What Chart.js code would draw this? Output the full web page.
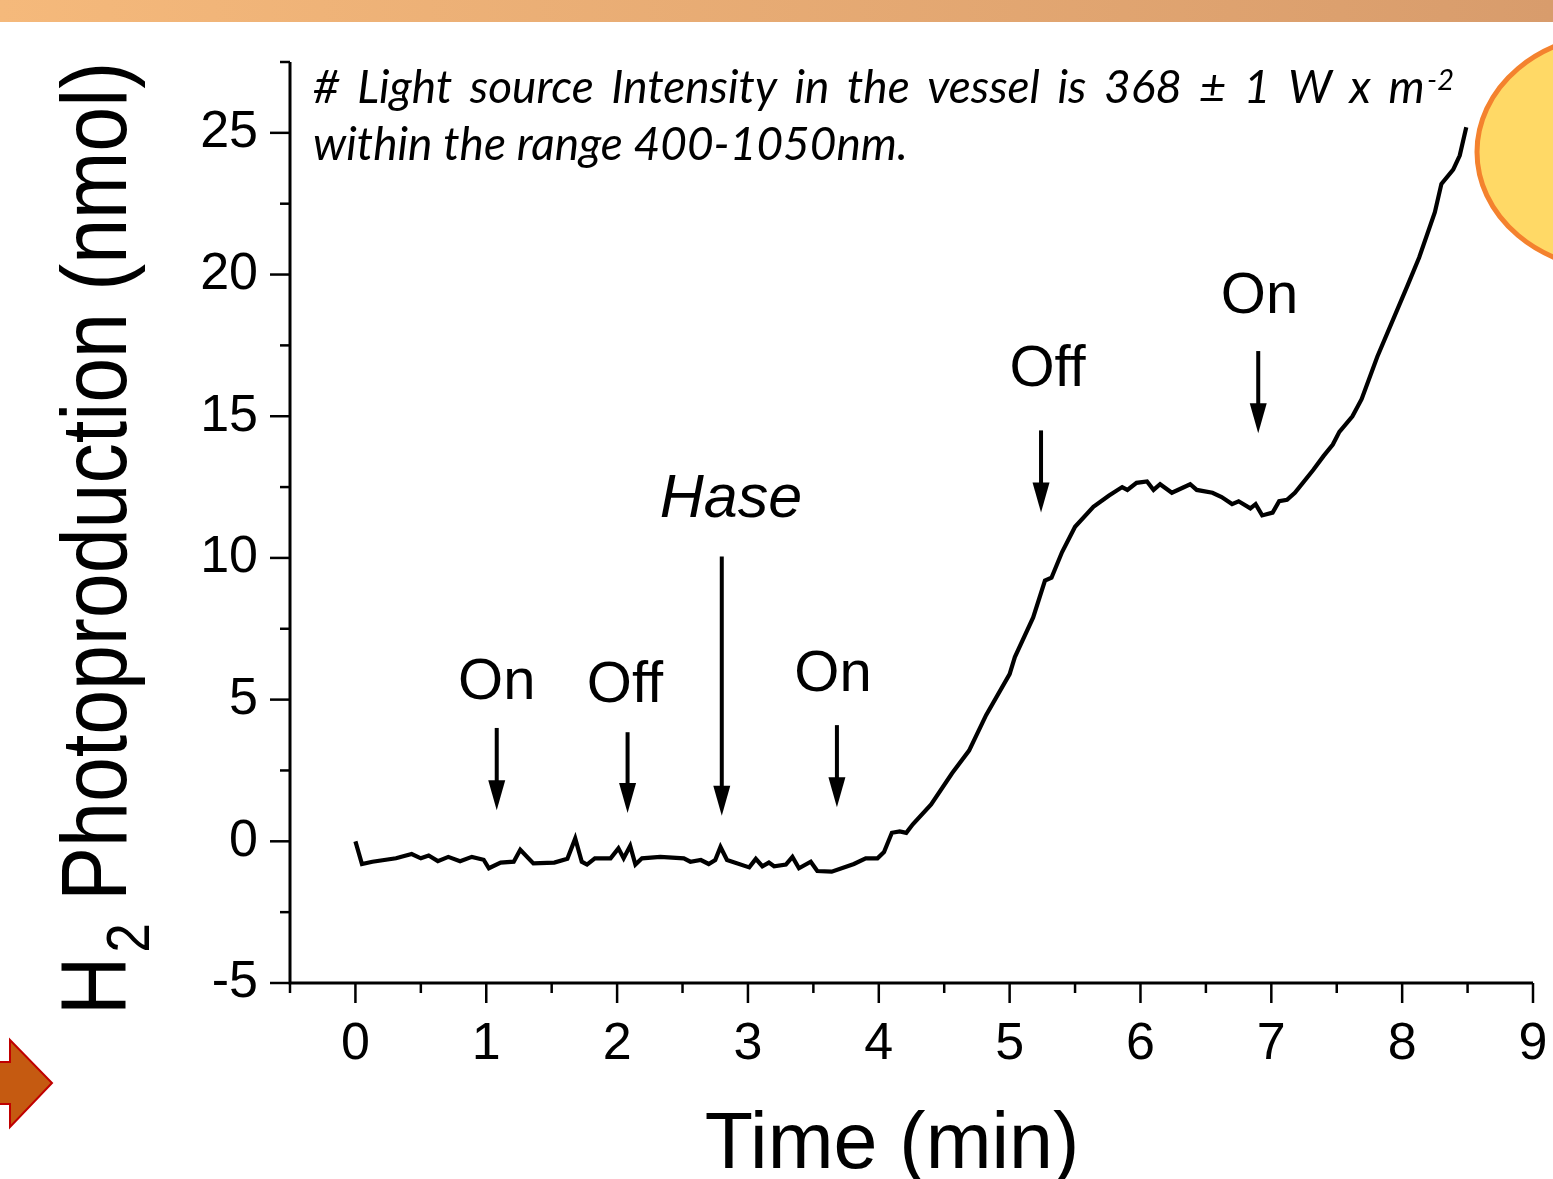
<!DOCTYPE html>
<html>
<head>
<meta charset="utf-8">
<script src="https://cdn.jsdelivr.net/npm/chart.js@4.4.1/dist/chart.umd.min.js"></script>
<style>
html, body { margin: 0; padding: 0; background: #fff; overflow: hidden; }
#wrap { width: 1553px; height: 1179px; position: relative; }
</style>
</head>
<body>
<div id="wrap"><canvas id="grafica"></canvas></div>
<script>
// H2 photoproduction trace
const timeMin = [
  0, 0.05, 0.13, 0.31, 0.43, 0.50, 0.56, 0.63, 0.71, 0.80,
  0.89, 0.98, 1.02, 1.11, 1.21, 1.26, 1.36, 1.52, 1.62, 1.68,
  1.73, 1.77, 1.83, 1.95, 2.01, 2.05, 2.10, 2.14, 2.19, 2.33,
  2.51, 2.56, 2.64, 2.70, 2.75, 2.79, 2.84, 3.01, 3.06, 3.11,
  3.16, 3.20, 3.29, 3.34, 3.39, 3.48, 3.53, 3.64, 3.81, 3.90,
  3.99, 4.04, 4.10, 4.16, 4.21, 4.26, 4.40, 4.56, 4.69, 4.82,
  5.00, 5.04, 5.18, 5.27, 5.32, 5.40, 5.50, 5.64, 5.76, 5.86,
  5.90, 5.97, 6.05, 6.10, 6.15, 6.24, 6.38, 6.43, 6.55, 6.62,
  6.70, 6.75, 6.84, 6.88, 6.93, 7.01, 7.06, 7.12, 7.18, 7.32,
  7.40, 7.47, 7.52, 7.62, 7.69, 7.81, 8.04, 8.13, 8.25, 8.30,
  8.39, 8.44, 8.49
];
const h2nmol = [
  0, -0.8, -0.72, -0.6, -0.45, -0.6, -0.5, -0.7, -0.55, -0.7,
  -0.55, -0.65, -0.95, -0.75, -0.72, -0.3, -0.78, -0.75, -0.62, 0.1,
  -0.72, -0.82, -0.6, -0.6, -0.25, -0.6, -0.16, -0.82, -0.6, -0.55,
  -0.6, -0.72, -0.66, -0.8, -0.66, -0.2, -0.66, -0.92, -0.62, -0.88,
  -0.75, -0.88, -0.82, -0.55, -0.95, -0.72, -1.05, -1.07, -0.8, -0.6,
  -0.6, -0.38, 0.3, 0.35, 0.3, 0.6, 1.3, 2.4, 3.2, 4.45,
  5.9, 6.5, 7.9, 9.2, 9.3, 10.2, 11.1, 11.8, 12.2, 12.5,
  12.4, 12.65, 12.7, 12.4, 12.6, 12.3, 12.6, 12.4, 12.3, 12.15,
  11.9, 12.0, 11.75, 11.9, 11.5, 11.6, 12.0, 12.05, 12.3, 13.1,
  13.6, 14.0, 14.45, 15.0, 15.6, 17.1, 19.6, 20.6, 22.2, 23.2,
  23.7, 24.2, 25.2
];

// tick labels
const xTicks = [0, 1, 2, 3, 4, 5, 6, 7, 8, 9];
const yTicks = [-5, 0, 5, 10, 15, 20, 25];
const xMinorStep = 0.5;
const yMinorStep = 2.5;

// arrow annotations (data units)
const marcas = ['On', 'Off', 'Hase', 'On', 'Off', 'On'];
const marcaX = [1.08, 2.08, 2.80, 3.68, 5.24, 6.90];
const marcaTop = [4.0, 3.85, 10.05, 4.1, 14.5, 17.3];
const marcaTip = [1.1, 1.0, 0.9, 1.2, 11.6, 14.4];
const etiquetaX = [1.08, 2.06, 2.87, 3.65, 5.29, 6.91];
const etiquetaY = [5.58, 5.48, 12.05, 5.87, 16.64, 19.19];

const puntos = timeMin.map((t, i) => ({ x: t, y: h2nmol[i] }));

const decorado = {
  id: 'decorado',
  beforeDraw(chart) {
    const ctx = chart.ctx;
    ctx.save();
    // orange band on top
    const g = ctx.createLinearGradient(0, 0, 1553, 0);
    g.addColorStop(0, '#F5B97B');
    g.addColorStop(1, '#D89C6C');
    ctx.fillStyle = g;
    ctx.fillRect(0, 0, 1553, 22);
    // yellow ellipse on the right edge
    ctx.beginPath();
    ctx.ellipse(1617, 152, 140, 118, 0, 0, Math.PI * 2);
    ctx.fillStyle = '#FFD966';
    ctx.fill();
    ctx.lineWidth = 5;
    ctx.strokeStyle = '#F4822E';
    ctx.stroke();
    // orange arrow bottom-left
    ctx.beginPath();
    ctx.moveTo(-5, 1062);
    ctx.lineTo(10, 1062);
    ctx.lineTo(10, 1040);
    ctx.lineTo(52, 1083);
    ctx.lineTo(10, 1127);
    ctx.lineTo(10, 1104);
    ctx.lineTo(-5, 1104);
    ctx.closePath();
    ctx.fillStyle = '#C55A11';
    ctx.fill();
    ctx.lineWidth = 2;
    ctx.strokeStyle = '#C00000';
    ctx.stroke();
    ctx.restore();
  },
  afterDraw(chart) {
    const ctx = chart.ctx;
    const xs = chart.scales.x, ys = chart.scales.y;
    const ca = chart.chartArea;
    ctx.save();
    // axes
    ctx.strokeStyle = '#000';
    ctx.lineWidth = 3;
    ctx.beginPath();
    ctx.moveTo(ca.left, ca.top);
    ctx.lineTo(ca.left, ca.bottom);
    ctx.lineTo(ca.right, ca.bottom);
    ctx.stroke();
    ctx.lineWidth = 2.5;
    for (let v = xs.min; v <= xs.max + 1e-9; v += xMinorStep) {
      const px = xs.getPixelForValue(v);
      const len = xTicks.includes(v) ? 20 : 10;
      ctx.beginPath();
      ctx.moveTo(px, ca.bottom);
      ctx.lineTo(px, ca.bottom + len);
      ctx.stroke();
    }
    for (let v = ys.min; v <= ys.max + 1e-9; v += yMinorStep) {
      const py = ys.getPixelForValue(v);
      const len = yTicks.includes(v) ? 20 : 10;
      ctx.beginPath();
      ctx.moveTo(ca.left, py);
      ctx.lineTo(ca.left - len, py);
      ctx.stroke();
    }

    // arrows + labels
    ctx.fillStyle = '#000';
    ctx.strokeStyle = '#000';
    ctx.lineWidth = 4;
    marcas.forEach((txt, i) => {
      const px = xs.getPixelForValue(marcaX[i]);
      const top = ys.getPixelForValue(marcaTop[i]);
      const tip = ys.getPixelForValue(marcaTip[i]);
      ctx.beginPath();
      ctx.moveTo(px, top);
      ctx.lineTo(px, tip - 26);
      ctx.stroke();
      ctx.beginPath();
      ctx.moveTo(px - 8.5, tip - 30);
      ctx.lineTo(px + 8.5, tip - 30);
      ctx.lineTo(px, tip);
      ctx.closePath();
      ctx.fill();
      ctx.font = (txt === 'Hase' ? 'italic 61px' : '58px') + ' "Liberation Sans", Arial, sans-serif';
      ctx.textAlign = 'center';
      ctx.textBaseline = 'middle';
      ctx.fillText(txt, xs.getPixelForValue(etiquetaX[i]), ys.getPixelForValue(etiquetaY[i]));
    });

    // axis titles
    ctx.textBaseline = 'alphabetic';
    ctx.textAlign = 'center';
    ctx.font = '79px "Liberation Sans", Arial, sans-serif';
    ctx.fillText('Time (min)', 892, 1168);

    ctx.save();
    ctx.translate(126, 1015);
    ctx.rotate(-Math.PI / 2);
    ctx.textAlign = 'left';
    const fBig = '82px "Liberation Sans", Arial, sans-serif';
    const fSub = '54px "Liberation Sans", Arial, sans-serif';
    ctx.font = fBig;
    const wH = ctx.measureText('H').width;
    const wRest = ctx.measureText(' Photoproduction (nmol)').width;
    ctx.font = fSub;
    const wSub = ctx.measureText('2').width + 4;
    const total = wH + wSub + wRest;
    ctx.scale(953 / total, 1.13);
    ctx.font = fBig;
    ctx.fillText('H', 0, 0);
    ctx.font = fSub;
    ctx.fillText('2', wH + 4, 20);
    ctx.font = fBig;
    ctx.fillText(' Photoproduction (nmol)', wH + wSub, 0);
    ctx.restore();

    // note at the top (first line justified to its width)
    ctx.textAlign = 'left';
    const linea1 = '# Light source Intensity in the vessel is 368 \u00B1 1 W x m';
    ctx.font = 'italic 46px Lato, "Open Sans", sans-serif';
    const nat = ctx.measureText(linea1).width;
    const huecos = linea1.split(' ').length - 1;
    const extra = Math.max(0, (1112 - nat) / huecos);
    ctx.wordSpacing = extra.toFixed(1) + 'px';
    ctx.fillText(linea1, 313, 103);
    ctx.wordSpacing = '0px';
    ctx.font = 'italic 29px Lato, "Open Sans", sans-serif';
    ctx.fillText('-2', 1427, 90);
    ctx.font = 'italic 46px Lato, "Open Sans", sans-serif';
    ctx.fillText('within the range 400-1050nm.', 313, 160);
    ctx.restore();
  }
};

const grafica = new Chart(document.getElementById('grafica'), {
  type: 'line',
  data: {
    datasets: [{
      label: 'H2',
      data: puntos,
      borderColor: '#000',
      borderWidth: 4.2,
      pointRadius: 0,
      tension: 0,
      fill: false
    }]
  },
  options: {
    responsive: true,
    maintainAspectRatio: false,
    animation: false,
    layout: { padding: { top: 62, right: 20, bottom: 0, left: 0 } },
    plugins: { legend: { display: false }, tooltip: { enabled: false } },
    scales: {
      x: {
        type: 'linear',
        min: -0.5,
        max: 9,
        grid: { display: false, drawTicks: false },
        border: { display: false },
        afterBuildTicks: (s) => { s.ticks = xTicks.map(v => ({ value: v })); },
        afterFit: (s) => { s.height = 196; s.paddingLeft = 0; s.paddingRight = 0; },
        ticks: {
          autoSkip: false,
          maxRotation: 0,
          padding: 30,
          color: '#000',
          font: { family: '"Liberation Sans", Arial, sans-serif', size: 52 }
        }
      },
      y: {
        min: -5,
        max: 27.5,
        grid: { display: false, drawTicks: false },
        border: { display: false },
        afterBuildTicks: (s) => { s.ticks = yTicks.map(v => ({ value: v })); },
        afterFit: (s) => { s.width = 290; s.paddingTop = 0; s.paddingBottom = 0; },
        ticks: {
          padding: 32,
          color: '#000',
          font: { family: '"Liberation Sans", Arial, sans-serif', size: 52 }
        }
      }
    }
  },
  plugins: [decorado]
});
</script>
</body>
</html>
